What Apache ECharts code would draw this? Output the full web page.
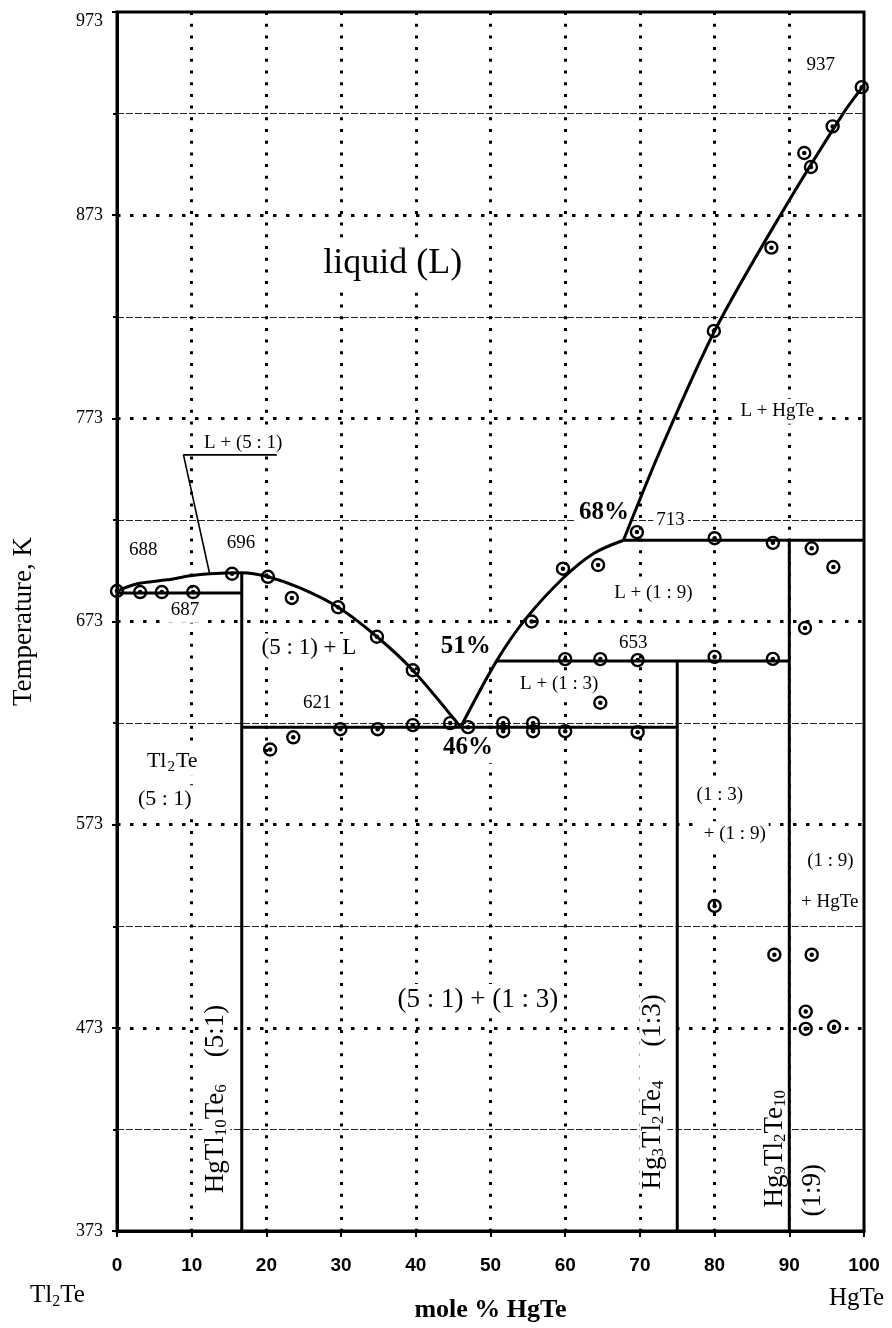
<!DOCTYPE html>
<html>
<head>
<meta charset="utf-8">
<title>Tl2Te - HgTe</title>
<script src="https://cdn.jsdelivr.net/npm/echarts@6/dist/echarts.min.js"></script>
<style>
  html, body { margin: 0; padding: 0; background: #fff; }
  #chart { width: 892px; height: 1328px; }
</style>
</head>
<body>
<div id="chart"></div>
<script>
// x = mole % HgTe, y = temperature in K

// phase boundaries
const liquidusLeft = [[0, 688], [2.6, 691.5], [6.7, 693.5], [9.8, 695.5], [12.4, 696.5], [16.7, 697],
  [20.2, 695], [24.5, 689.5], [29.6, 680], [34.8, 665.5], [39.6, 649], [46, 621]];
const liquidusMid = [[46, 621], [50.8, 653.5], [54.6, 673.8], [59.7, 694.3], [63.8, 706.5], [67.8, 713]];
const liquidusHgTe = [[67.8, 713], [72.7, 757], [80, 816], [88.8, 873], [97.2, 923], [100, 937]];
const solidus687 = [[0, 687], [16.7, 687]];
const eutectic621 = [[16.7, 621], [75, 621]];
const peritectic653 = [[50.8, 653.5], [90, 653.5]];
const peritectic713 = [[67.8, 713], [100, 713]];
const phase51 = [[16.7, 373], [16.7, 697]];
const phase13 = [[75, 373], [75, 653.5]];
const phase19 = [[90, 373], [90, 713]];
const leader51 = [[21.4, 755], [8.9, 755], [12.4, 696.5]];

// measured points
const measured = [
  [0, 688], [3.1, 687.5], [6, 687.5], [10.2, 687.5], [15.4, 696.5],
  [20.2, 695], [23.4, 684.6], [29.6, 680], [34.8, 665.5], [39.6, 649],
  [20.5, 610], [23.6, 616], [29.9, 620], [34.9, 620], [39.6, 622], [44.6, 623], [47, 621],
  [51.7, 623], [51.7, 619], [55.7, 623], [55.7, 619], [60, 619], [69.7, 618.5], [64.7, 633],
  [55.5, 673], [59.7, 699], [64.4, 700.8], [69.6, 717],
  [60, 654.5], [64.7, 654.5], [69.7, 654], [80, 655.6], [87.8, 654.6],
  [80, 714], [87.8, 711.7], [93, 709], [95.9, 699.8], [92.1, 669.8],
  [79.9, 816], [87.6, 857], [92, 903.6], [92.9, 896.7], [95.8, 916.7], [99.7, 936],
  [80, 533], [88, 509], [93, 509], [92.2, 481], [92.2, 472.5], [96, 473.5]
];

// text in the field: x, T, text, kind
const notes = [
  [36.9, 849, 'liquid (L)', 'big'],
  [16.9, 761, 'L + (5 : 1)', 'small'],
  [3.5, 708, '688', 'small'],
  [16.6, 711.5, '696', 'small'],
  [9.1, 678.5, '687', 'small'],
  [25.7, 660, '(5 : 1) + L', 'mid'],
  [26.8, 633, '621', 'small'],
  [46.7, 660.5, '51%', 'pct'],
  [47, 611, '46%', 'pct'],
  [65.2, 726.5, '68%', 'pct'],
  [74.1, 723, '713', 'small'],
  [69.1, 662.5, '653', 'small'],
  [71.8, 687, 'L + (1 : 9)', 'small'],
  [59.2, 642, 'L + (1 : 3)', 'small'],
  [88.4, 776.5, 'L + HgTe', 'small'],
  [94.2, 947, '937', 'small'],
  [7.4, 604, 'Tl{s|2}Te', 'tl'],
  [6.4, 585.5, '(5 : 1)', 'tl'],
  [80.7, 587.5, '(1 : 3)', 'small'],
  [82.7, 568.5, '+ (1 : 9)', 'small'],
  [95.5, 555, '(1 : 9)', 'small'],
  [95.4, 535, '+ HgTe', 'small'],
  [48.3, 486.5, '(5 : 1) + (1 : 3)', 'large']
];

// compound names written upwards
const compounds = [
  [13.3, 438, '{n|HgTl}{s|10}{n|Te}{s|6}{n|    (5:1)}'],
  [71.8, 441.5, '{n|Hg}{s|3}{n|Tl}{s|2}{n|Te}{s|4}{n|     (1:3)}'],
  [88.1, 413.5, '{n|Hg}{s|9}{n|Tl}{s|2}{n|Te}{s|10}'],
  [93.2, 393, '{n|(1:9)}']
];

const serif = "'Liberation Serif', 'Times New Roman', serif";

const noteFont = {
  big: { fontSize: 36 },
  mid: { fontSize: 23 },
  large: { fontSize: 27 },
  small: { fontSize: 19 },
  pct: { fontSize: 25, fontWeight: 'bold' },
  tl: { fontSize: 22 }
};

const chart = echarts.init(document.getElementById('chart'));

function boundary(data, width, smooth) {
  return {
    type: 'line',
    data: data,
    showSymbol: false,
    smooth: smooth || false,
    silent: true,
    z: 2,
    lineStyle: { color: '#000', width: width }
  };
}

const option = {
  animation: false,
  backgroundColor: '#fff',
  grid: {
    left: 117,
    right: 28,
    top: 12,
    bottom: 95,
    show: true,
    borderColor: '#000',
    borderWidth: 3
  },
  xAxis: {
    type: 'value',
    min: 0,
    max: 100,
    interval: 10,
    name: 'mole % HgTe',
    nameLocation: 'middle',
    nameGap: 66,
    nameTextStyle: { fontFamily: serif, fontWeight: 'bold', fontSize: 26, color: '#000' },
    axisLine: { lineStyle: { color: '#000', width: 3 } },
    axisTick: { length: 6, lineStyle: { color: '#000', width: 2 } },
    axisLabel: {
      margin: 25,
      color: '#000',
      fontSize: 19,
      fontWeight: 'bold',
      fontFamily: "'Liberation Sans Narrow', 'Liberation Sans', sans-serif"
    },
    splitLine: {
      show: true,
      showMinLine: false,
      showMaxLine: false,
      lineStyle: { color: '#000', width: 3, type: [3, 8.7] }
    }
  },
  yAxis: {
    type: 'value',
    min: 373,
    max: 973,
    interval: 100,
    name: 'Temperature, K',
    nameLocation: 'middle',
    nameGap: 80,
    nameTextStyle: { fontFamily: serif, fontSize: 27, color: '#000' },
    axisLine: { lineStyle: { color: '#000', width: 3 } },
    axisTick: { length: 5, lineStyle: { color: '#000', width: 2 } },
    minorTick: { show: true, splitNumber: 2, length: 4, lineStyle: { color: '#000', width: 2 } },
    axisLabel: {
      margin: 14,
      color: '#000',
      fontSize: 18,
      fontFamily: serif,
      verticalAlignMaxLabel: 'top'
    },
    splitLine: {
      show: true,
      showMinLine: false,
      showMaxLine: false,
      lineStyle: { color: '#000', width: 3, type: [3.5, 9.5] }
    },
    minorSplitLine: {
      show: true,
      lineStyle: { color: '#222', width: 1, type: [7, 2] }
    }
  },
  graphic: [
    {
      type: 'text',
      left: 30,
      top: 1283,
      style: {
        text: '{n|Tl}{s|2}{n|Te}',
        rich: {
          n: { fontFamily: serif, fontSize: 25, lineHeight: 28, fill: '#000' },
          s: { fontFamily: serif, fontSize: 16, lineHeight: 14, verticalAlign: 'bottom', fill: '#000' }
        }
      }
    },
    {
      type: 'text',
      left: 829,
      top: 1286,
      style: { text: 'HgTe', fontFamily: serif, fontSize: 25, fill: '#000' }
    }
  ],
  series: [
    boundary(liquidusLeft, 3, 0.3),
    boundary(liquidusMid, 3, 0.3),
    boundary(liquidusHgTe, 3, 0.3),
    boundary(solidus687, 3),
    boundary(eutectic621, 3),
    boundary(peritectic653, 3),
    boundary(peritectic713, 3),
    boundary(phase51, 3),
    boundary(phase13, 3),
    boundary(phase19, 3),
    boundary(leader51, 1.6),
    {
      type: 'scatter',
      data: measured,
      symbol: 'circle',
      symbolSize: 12,
      silent: true,
      z: 3,
      itemStyle: { color: 'transparent', borderColor: '#000', borderWidth: 2.4, opacity: 1 }
    },
    {
      type: 'scatter',
      data: measured,
      symbol: 'circle',
      symbolSize: 4.5,
      silent: true,
      z: 3,
      itemStyle: { color: '#000', opacity: 1 }
    },
    {
      type: 'scatter',
      symbolSize: 0,
      silent: true,
      z: 1,
      itemStyle: { opacity: 1 },
      data: notes.map(function (n) {
        const f = noteFont[n[3]];
        return {
          value: [n[0], n[1]],
          label: {
            show: true,
            position: 'inside',
            formatter: n[2],
            color: '#000',
            fontFamily: serif,
            fontSize: f.fontSize,
            fontWeight: f.fontWeight || 'normal',
            backgroundColor: '#fff',
            padding: [1, 3],
            rich: {
              s: { fontFamily: serif, fontSize: 15, lineHeight: 14, verticalAlign: 'bottom', padding: [0, 1, 0, 1], color: '#000' }
            },
            lineHeight: f.fontSize + 4
          }
        };
      })
    },
    {
      type: 'scatter',
      symbolSize: 0,
      silent: true,
      z: 1,
      itemStyle: { opacity: 1 },
      data: compounds.map(function (c) {
        return {
          value: [c[0], c[1]],
          label: {
            show: true,
            position: 'inside',
            rotate: 90,
            formatter: c[2],
            backgroundColor: '#fff',
            padding: [0, 2],
            rich: {
              n: { fontFamily: serif, fontSize: 27, lineHeight: 28, color: '#000' },
              s: { fontFamily: serif, fontSize: 17, lineHeight: 14, verticalAlign: 'bottom', color: '#000' }
            }
          }
        };
      })
    }
  ]
};

chart.setOption(option);
</script>
</body>
</html>
